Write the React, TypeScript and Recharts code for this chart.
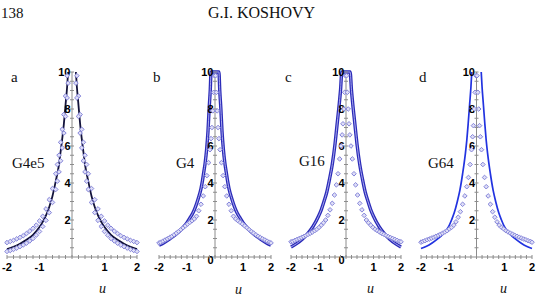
import React from 'react';
import { ComposedChart, Line, Scatter, XAxis, YAxis, ReferenceLine } from 'recharts';

type Pair = [number, number | null];

// Profiles per panel: [u, value]
const curveA: Pair[] = [[-2,0.43],[-1.8,0.55],[-1.6,0.72],[-1.4,0.93],[-1.2,1.2],[-1,1.62],[-0.9,1.9],[-0.8,2.25],[-0.7,2.7],[-0.6,3.3],[-0.5,4.1],[-0.4,5.0],[-0.35,5.7],[-0.3,6.4],[-0.25,7.2],[-0.2,8.2],[-0.15,9.2],[-0.12,10],[0,null],[0.12,10],[0.15,9.2],[0.2,8.2],[0.25,7.2],[0.3,6.4],[0.35,5.7],[0.4,5.0],[0.5,4.1],[0.6,3.3],[0.7,2.7],[0.8,2.25],[0.9,1.9],[1,1.62],[1.2,1.2],[1.4,0.93],[1.6,0.72],[1.8,0.55],[2,0.43]];
const upperA: Pair[] = [[-2,0.78],[-1.9,0.84],[-1.8,0.9],[-1.7,0.98],[-1.6,1.06],[-1.5,1.15],[-1.4,1.27],[-1.3,1.4],[-1.2,1.55],[-1.1,1.72],[-1,1.95],[-0.9,2.2],[-0.8,2.6],[-0.7,3.1],[-0.6,3.7],[-0.5,4.5],[-0.45,5.0],[-0.4,5.5],[-0.35,6.2],[-0.3,6.9],[-0.25,7.7],[-0.2,8.7],[-0.15,9.8],[0.15,9.8],[0.2,8.7],[0.25,7.7],[0.3,6.9],[0.35,6.2],[0.4,5.5],[0.45,5.0],[0.5,4.5],[0.6,3.7],[0.7,3.1],[0.8,2.6],[0.9,2.2],[1,1.95],[1.1,1.72],[1.2,1.55],[1.3,1.4],[1.4,1.27],[1.5,1.15],[1.6,1.06],[1.7,0.98],[1.8,0.9],[1.9,0.84],[2,0.78]];
const lowerA: Pair[] = [[-2,0.3],[-1.9,0.35],[-1.8,0.41],[-1.7,0.48],[-1.6,0.56],[-1.5,0.65],[-1.4,0.75],[-1.3,0.87],[-1.2,1.0],[-1.1,1.18],[-1,1.38],[-0.9,1.65],[-0.8,1.98],[-0.7,2.4],[-0.6,2.95],[-0.5,3.65],[-0.45,4.1],[-0.4,4.6],[-0.35,5.2],[-0.3,5.9],[-0.25,6.7],[-0.2,7.6],[-0.15,8.6],[-0.12,9.4],[0.12,9.4],[0.15,8.6],[0.2,7.6],[0.25,6.7],[0.3,5.9],[0.35,5.2],[0.4,4.6],[0.45,4.1],[0.5,3.65],[0.6,2.95],[0.7,2.4],[0.8,1.98],[0.9,1.65],[1,1.38],[1.1,1.18],[1.2,1.0],[1.3,0.87],[1.4,0.75],[1.5,0.65],[1.6,0.56],[1.7,0.48],[1.8,0.41],[1.9,0.35],[2,0.3]];

const curveB: Pair[] = [[-2,0.63],[-1.8,0.8],[-1.6,1.0],[-1.4,1.22],[-1.2,1.5],[-1,1.85],[-0.9,2.1],[-0.8,2.35],[-0.7,2.7],[-0.6,3.15],[-0.5,3.7],[-0.45,4.1],[-0.4,4.6],[-0.35,5.1],[-0.3,5.8],[-0.25,6.8],[-0.21,8.0],[-0.17,9.0],[-0.14,10],[0.14,10],[0.17,9.0],[0.21,8.0],[0.25,6.8],[0.3,5.8],[0.35,5.1],[0.4,4.6],[0.45,4.1],[0.5,3.7],[0.6,3.15],[0.7,2.7],[0.8,2.35],[0.9,2.1],[1,1.85],[1.2,1.5],[1.4,1.22],[1.6,1.0],[1.8,0.8],[2,0.63]];
const dotsB: Pair[] = [[-2,0.76],[-1.94,0.8],[-1.86,0.86],[-1.78,0.92],[-1.7,0.98],[-1.62,1.05],[-1.54,1.12],[-1.46,1.2],[-1.38,1.29],[-1.3,1.38],[-1.22,1.48],[-1.14,1.58],[-1.06,1.68],[-0.98,1.78],[-0.9,1.87],[-0.82,1.96],[-0.74,2.06],[-0.66,2.2],[-0.58,2.5],[-0.5,2.85],[-0.42,3.3],[-0.35,3.8],[-0.29,4.4],[-0.23,5.1],[-0.18,5.8],[-0.14,6.4],[-0.11,7.0],[-0.08,7.9],[-0.05,8.9],[-0.02,9.8],[0.02,9.8],[0.05,8.9],[0.08,7.9],[0.11,7.0],[0.14,6.4],[0.18,5.8],[0.23,5.1],[0.29,4.4],[0.35,3.8],[0.42,3.3],[0.5,2.85],[0.58,2.5],[0.66,2.2],[0.74,2.06],[0.82,1.96],[0.9,1.87],[0.98,1.78],[1.06,1.68],[1.14,1.58],[1.22,1.48],[1.3,1.38],[1.38,1.29],[1.46,1.2],[1.54,1.12],[1.62,1.05],[1.7,0.98],[1.78,0.92],[1.86,0.86],[1.94,0.8],[2,0.76]];

const curveC: Pair[] = [[-2,0.54],[-1.8,0.72],[-1.6,0.95],[-1.4,1.25],[-1.2,1.65],[-1,2.2],[-0.9,2.55],[-0.8,3.0],[-0.7,3.5],[-0.6,4.2],[-0.5,5.0],[-0.4,6.1],[-0.35,6.8],[-0.3,7.5],[-0.25,8.2],[-0.2,9.0],[-0.15,10],[0.15,10],[0.2,9.0],[0.25,8.2],[0.3,7.5],[0.35,6.8],[0.4,6.1],[0.5,5.0],[0.6,4.2],[0.7,3.5],[0.8,3.0],[0.9,2.55],[1,2.2],[1.2,1.65],[1.4,1.25],[1.6,0.95],[1.8,0.72],[2,0.54]];
const dotsC: Pair[] = [[-2,0.82],[-1.94,0.85],[-1.86,0.9],[-1.78,0.95],[-1.7,1.0],[-1.62,1.05],[-1.54,1.1],[-1.46,1.16],[-1.38,1.22],[-1.3,1.28],[-1.22,1.35],[-1.14,1.42],[-1.06,1.5],[-0.98,1.6],[-0.9,1.72],[-0.82,1.85],[-0.74,2.0],[-0.66,2.25],[-0.58,2.55],[-0.5,2.9],[-0.42,3.35],[-0.35,3.9],[-0.29,4.5],[-0.23,5.3],[-0.18,6.0],[-0.14,6.6],[-0.11,7.2],[-0.08,8.0],[-0.05,8.9],[-0.02,9.8],[0.02,9.8],[0.05,8.9],[0.08,8.0],[0.11,7.2],[0.14,6.6],[0.18,6.0],[0.23,5.3],[0.29,4.5],[0.35,3.9],[0.42,3.35],[0.5,2.9],[0.58,2.55],[0.66,2.25],[0.74,2.0],[0.82,1.85],[0.9,1.72],[0.98,1.6],[1.06,1.5],[1.14,1.42],[1.22,1.35],[1.3,1.28],[1.38,1.22],[1.46,1.16],[1.54,1.1],[1.62,1.05],[1.7,1.0],[1.78,0.95],[1.86,0.9],[1.94,0.85],[2,0.82]];

const curveD: Pair[] = [[-2,0.46],[-1.8,0.58],[-1.6,0.76],[-1.4,0.98],[-1.2,1.25],[-1,1.65],[-0.9,2.0],[-0.8,2.4],[-0.7,2.95],[-0.6,3.6],[-0.5,4.5],[-0.4,5.6],[-0.35,6.3],[-0.3,7.2],[-0.25,8.2],[-0.2,9.2],[-0.17,10],[0,null],[0.17,10],[0.2,9.2],[0.25,8.2],[0.3,7.2],[0.35,6.3],[0.4,5.6],[0.5,4.5],[0.6,3.6],[0.7,2.95],[0.8,2.4],[0.9,2.0],[1,1.65],[1.2,1.25],[1.4,0.98],[1.6,0.76],[1.8,0.58],[2,0.46]];
const dotsD: Pair[] = [[-2,0.8],[-1.94,0.84],[-1.86,0.88],[-1.78,0.93],[-1.7,0.97],[-1.62,1.02],[-1.54,1.07],[-1.46,1.12],[-1.38,1.17],[-1.3,1.23],[-1.22,1.29],[-1.14,1.35],[-1.06,1.42],[-0.98,1.52],[-0.9,1.6],[-0.82,1.72],[-0.74,1.9],[-0.66,2.15],[-0.58,2.45],[-0.5,2.85],[-0.42,3.3],[-0.35,3.8],[-0.29,4.3],[-0.23,5.0],[-0.18,5.8],[-0.14,6.5],[-0.11,7.1],[-0.08,8.0],[-0.05,8.9],[-0.02,9.8],[0.02,9.8],[0.05,8.9],[0.08,8.0],[0.11,7.1],[0.14,6.5],[0.18,5.8],[0.23,5.0],[0.29,4.3],[0.35,3.8],[0.42,3.3],[0.5,2.85],[0.58,2.45],[0.66,2.15],[0.74,1.9],[0.82,1.72],[0.9,1.6],[0.98,1.52],[1.06,1.42],[1.14,1.35],[1.22,1.29],[1.3,1.23],[1.38,1.17],[1.46,1.12],[1.54,1.07],[1.62,1.02],[1.7,0.97],[1.78,0.93],[1.86,0.88],[1.94,0.84],[2,0.8]];

// Axis ticks and labels
const xTicks = [-2,-1.8,-1.6,-1.4,-1.2,-1,-0.8,-0.6,-0.4,-0.2,0,0.2,0.4,0.6,0.8,1,1.2,1.4,1.6,1.8,2];
const xLabelAt = [-2,-1,1,2];
const xLabels = ['-2','-1','1','2'];
const yTicks = [0,0.5,1,1.5,2,2.5,3,3.5,4,4.5,5,5.5,6,6.5,7,7.5,8,8.5,9,9.5,10];
const yLabelAt = [0,2,4,6,8,10];
const yLabels = ['0','2','4','6','8','10'];

const panelLetters = ['a','b','c','d'];
const panelNames = ['G4e5','G4','G16','G64'];

const AXIS = '#8c8c8c';
const DOT_STROKE = '#8585da';
const DOT_FILL = '#dedef6';
const tickFont: React.CSSProperties = { fontFamily: '"Liberation Sans", Arial, sans-serif', fontWeight: 'bold', fontSize: 11, fill: '#000' };

const toRows = (p: Pair[]) => p.map(([u, v]) => ({ u, v }));

const XTick = (props: any) => {
  const { x, y, payload } = props;
  const idx = xLabelAt.findIndex((t) => Math.abs(t - payload.value) < 1e-9);
  return (
    <g>
      <line x1={x} x2={x} y1={y - 2} y2={y + 2} stroke={AXIS} strokeWidth={1} />
      {idx >= 0 && (
        <text x={x} y={y + 14} textAnchor="middle" style={tickFont}>{xLabels[idx]}</text>
      )}
    </g>
  );
};

const Diamond = (props: any) => {
  const { cx, cy } = props;
  if (cx == null || cy == null) return null;
  const r = 2.3;
  return <path d={`M${cx},${cy - r}L${cx + r},${cy}L${cx},${cy + r}L${cx - r},${cy}Z`} fill={DOT_FILL} stroke={DOT_STROKE} strokeWidth={1} />;
};

const makeYTick = (showZero: boolean) => (props: any) => {
  const { cx, cy, payload } = props;
  const idx = yLabelAt.findIndex((t) => Math.abs(t - payload.v) < 1e-9);
  const showLabel = idx >= 0 && (payload.v !== 0 || showZero);
  return (
    <g>
      {payload.v !== 0 && <line x1={cx - 2} x2={cx + 2} y1={cy} y2={cy} stroke={AXIS} strokeWidth={1} />}
      {showLabel && (
        <text x={cx - 1.5} y={cy + 4 + (payload.v === 0 ? 3 : 0)} textAnchor="end" style={tickFont}>{yLabels[idx]}</text>
      )}
    </g>
  );
};

type PanelProps = {
  left: number;
  width: number;
  mLeft: number;
  mRight: number;
  curve: Pair[];
  dots: Pair[][];
  kind: 'black' | 'double' | 'thin';
  showZero: boolean;
};

const TOP = 60;
const HEIGHT = 220;

const Panel = ({ left, width, mLeft, mRight, curve, dots, kind, showZero }: PanelProps) => {
  const yTickRows = yTicks.map((v) => ({ u: 0, v }));
  const curveRows = toRows(curve);
  const curveLines =
    kind === 'black'
      ? [<Line key="c" data={curveRows} dataKey="v" type="monotone" stroke="#14143c" strokeWidth={1.8} dot={false} isAnimationActive={false} />]
      : kind === 'double'
      ? [
          <Line key="c1" data={curveRows} dataKey="v" type="monotone" stroke="#2b2bb8" strokeWidth={3.4} dot={false} isAnimationActive={false} />,
          <Line key="c2" data={curveRows} dataKey="v" type="monotone" stroke="#a8a8ee" strokeWidth={1} dot={false} isAnimationActive={false} />,
        ]
      : [<Line key="c" data={curveRows} dataKey="v" type="monotone" stroke="#2233e0" strokeWidth={1.7} dot={false} isAnimationActive={false} />];
  const dotSeries = dots.map((d, i) => (
    <Scatter key={`d${i}`} data={toRows(d)} shape={<Diamond />} isAnimationActive={false} />
  ));
  return (
    <div style={{ position: 'absolute', left, top: TOP, width, height: HEIGHT }}>
      <ComposedChart width={width} height={HEIGHT} margin={{ top: 12, bottom: 0, left: mLeft, right: mRight }}>
        <XAxis
          type="number"
          dataKey="u"
          domain={[-2, 2]}
          ticks={xTicks}
          interval={0}
          height={23}
          tickSize={0}
          tickMargin={0}
          tickLine={false}
          axisLine={{ stroke: AXIS }}
          tick={<XTick />}
        />
        <YAxis type="number" dataKey="v" domain={[0, 10]} hide />
        <ReferenceLine x={0} stroke={AXIS} strokeWidth={1} />
        <Scatter data={yTickRows} shape={makeYTick(showZero)} isAnimationActive={false} />
        {kind === 'black' ? [...dotSeries, ...curveLines] : [...curveLines, ...dotSeries]}
      </ComposedChart>
    </div>
  );
};

const serif = '"Liberation Serif", "Times New Roman", serif';

const Label = ({ x, y, text, size, italic }: { x: number; y: number; text: string; size: number; italic?: boolean }) => (
  <div style={{ position: 'absolute', left: x, top: y, fontFamily: serif, fontSize: size, lineHeight: 1, fontStyle: italic ? 'italic' : 'normal', whiteSpace: 'nowrap', color: '#111' }}>
    {text}
  </div>
);

export default function App() {
  return (
    <div style={{ position: 'absolute', left: 0, top: 0, width: 542, height: 302, background: '#fff', overflow: 'hidden' }}>
      <Label x={1} y={6} text="138" size={15} />
      <Label x={208} y={5} text="G.I. KOSHOVY" size={16} />

      <Panel left={0} width={150} mLeft={7} mRight={13} curve={curveA} dots={[upperA, lowerA]} kind="black" showZero={false} />
      <Panel left={150} width={130} mLeft={9} mRight={9} curve={curveB} dots={[dotsB]} kind="double" showZero={true} />
      <Panel left={280} width={130} mLeft={11} mRight={9} curve={curveC} dots={[dotsC]} kind="double" showZero={true} />
      <Panel left={410} width={132} mLeft={11} mRight={10} curve={curveD} dots={[dotsD]} kind="thin" showZero={false} />

      <Label x={11} y={70} text={panelLetters[0]} size={15} />
      <Label x={153} y={70} text={panelLetters[1]} size={15} />
      <Label x={285} y={70} text={panelLetters[2]} size={15} />
      <Label x={419} y={70} text={panelLetters[3]} size={15} />

      <Label x={12} y={156} text={panelNames[0]} size={15} />
      <Label x={176} y={156} text={panelNames[1]} size={15} />
      <Label x={299} y={154} text={panelNames[2]} size={15} />
      <Label x={428} y={156} text={panelNames[3]} size={15} />

      <Label x={99} y={282} text="u" size={14} italic />
      <Label x={235} y={283} text="u" size={14} italic />
      <Label x={367} y={282} text="u" size={14} italic />
      <Label x={500} y={282} text="u" size={14} italic />
    </div>
  );
}
